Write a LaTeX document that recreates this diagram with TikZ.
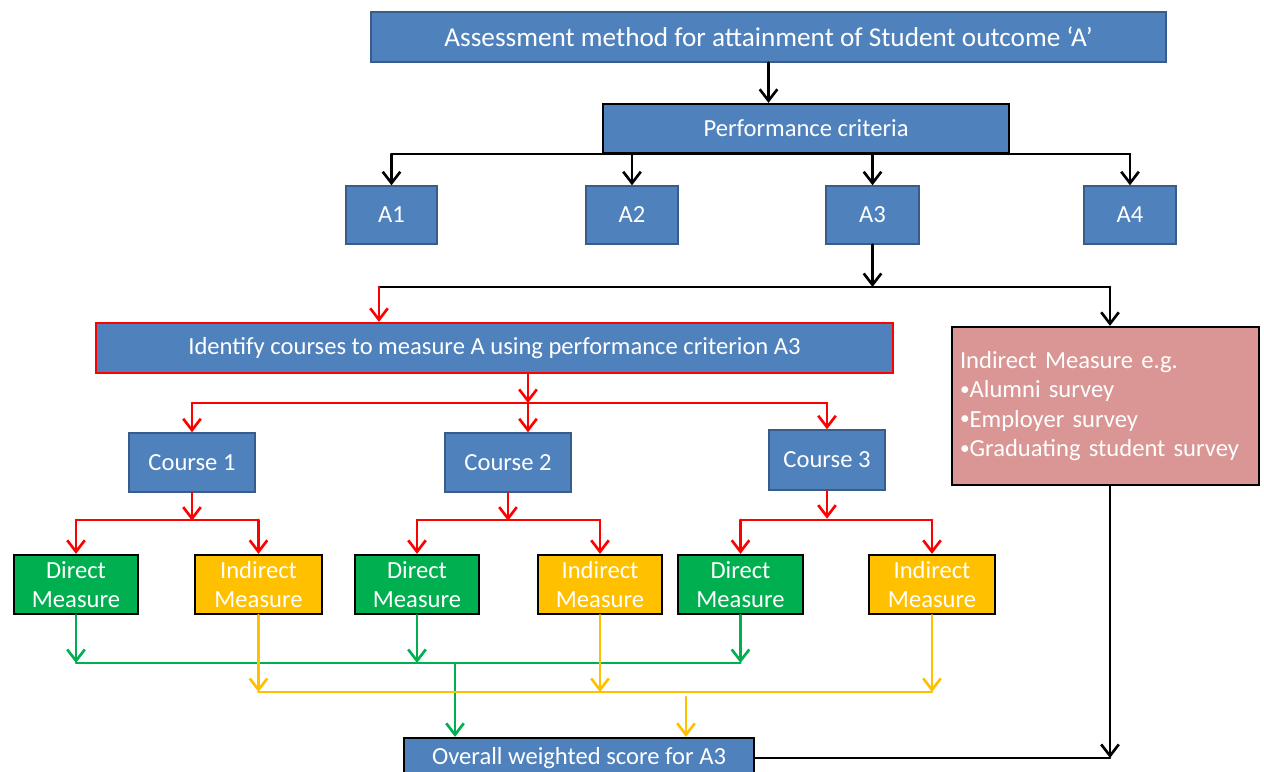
\documentclass[tikz,border=0pt]{standalone}
\usepackage{fontspec}
\setmainfont{Carlito}
\usepackage{tikz}
\usetikzlibrary{arrows.meta}
\usepackage{xcolor}
\definecolor{boxblue}{HTML}{4F81BD}
\definecolor{edgeblue}{HTML}{385D8A}
\definecolor{dmgreen}{HTML}{00B050}
\definecolor{imyellow}{HTML}{FFC000}
\definecolor{surveypink}{HTML}{D99694}
\newcommand{\smallbul}{\raisebox{0.2ex}{\fontsize{11}{11}\selectfont•}}
\tikzset{
  bluebox/.style={draw=edgeblue,fill=boxblue,text=white,inner sep=0pt,line width=0.8pt},
  blackedge/.style={bluebox,draw=black,line width=1.3pt},
  directbox/.style={draw=black,line width=1.3pt,fill=dmgreen,text=white,align=center,inner sep=0pt,
    minimum height=1.18cm,font=\fontsize{14}{16.8}\selectfont},
  indirectbox/.style={directbox,fill=imyellow},
  blk/.style={black,line width=1.5pt},
  redl/.style={red,line width=1.5pt},
  grnl/.style={dmgreen,line width=1.5pt},
  yell/.style={imyellow,line width=1.5pt}
}
\begin{document}
\begin{tikzpicture}[x=0.02cm,y=-0.02cm,>={Straight Barb[length=6.5pt,width=10pt]},
  font=\fontsize{14}{16.8}\selectfont,line cap=round]
\useasboundingbox (0,0) rectangle (1264,771);
\fill[white] (0,0) rectangle (1264,771);
% boxes
\node[bluebox,minimum width=15.9cm,minimum height=1cm,font=\fontsize{15.5}{18}\selectfont] (top) at (768.5,37) {Assessment method for attainment of Student outcome ‘A’};
\node[blackedge,minimum width=8.12cm,minimum height=0.98cm] (perf) at (806,128.5) {Performance criteria};
\node[bluebox,minimum width=1.82cm,minimum height=1.16cm] (A1) at (391.5,215) {A1};
\node[bluebox,minimum width=1.84cm,minimum height=1.16cm] (A2) at (632,215) {A2};
\node[bluebox,minimum width=1.86cm,minimum height=1.16cm] (A3) at (872.5,215) {A3};
\node[bluebox,minimum width=1.84cm,minimum height=1.16cm] (A4) at (1130,215) {A4};
\node[bluebox,draw=red,line width=1.3pt,minimum width=15.94cm,minimum height=1cm] (ident) at (494.5,348) {Identify courses to measure A using performance criterion A3};
\node[draw=black,line width=1.3pt,fill=surveypink,text=white,minimum width=6.14cm,minimum height=3.16cm,
  text width=5.82cm,align=left,inner sep=0pt,font=\fontsize{14}{16.7}\selectfont] (ind) at (1105.5,406)
  {Indirect Measure e.g.\\\smallbul Alumni survey\\\smallbul Employer survey\\\smallbul Graduating student survey};
\node[bluebox,minimum width=2.52cm,minimum height=1.18cm] (C1) at (192,462.5) {Course 1};
\node[bluebox,minimum width=2.52cm,minimum height=1.18cm] (C2) at (508,462.5) {Course 2};
\node[bluebox,minimum width=2.32cm,minimum height=1.2cm] (C3) at (827,460) {Course 3};
\node[directbox,minimum width=2.48cm] (D1) at (76,584.5) {Direct\\Measure};
\node[indirectbox,minimum width=2.54cm] (I1) at (258.5,584.5) {Indirect\\Measure};
\node[directbox,minimum width=2.48cm] (D2) at (417,584.5) {Direct\\Measure};
\node[indirectbox,minimum width=2.48cm] (I2) at (600,584.5) {Indirect\\Measure};
\node[directbox,minimum width=2.5cm] (D3) at (740.5,584.5) {Direct\\Measure};
\node[indirectbox,minimum width=2.52cm] (I3) at (932,584.5) {Indirect\\Measure};
\node[blackedge,minimum width=7cm,minimum height=0.8cm] (out) at (579,758) {Overall weighted score for A3};
% black connectors
\draw[blk,->] (top.south) -- (top.south |- perf.north);
\draw[blk] (perf.south -| A1) -- (perf.south -| A4);
\foreach \a in {A1,A2,A3,A4}
  \draw[blk,->] (perf.south -| \a) -- (\a.north);
\coordinate (s1) at (379,287);
\coordinate (s2) at (1110,287);
\draw[blk,->] (A3.south) -- (A3.south |- s1);
\draw[blk] (s1) -- (s2);
\draw[blk,->] (s2) -- (s2 |- ind.north);
\draw[redl,->] (s1) -- (s1 |- ident.north);
% courses
\coordinate (s3) at (528,403);
\draw[redl,->] (s3 |- ident.south) -- (s3);
\draw[redl] (C1.north |- s3) -- (C3.north |- s3);
\draw[redl,->] (C1.north |- s3) -- (C1.north);
\draw[redl,->] (s3) -- (s3 |- C2.north);
\draw[redl,->] (C3.north |- s3) -- (C3.north);
\foreach \c/\d/\i in {C1/D1/I1,C2/D2/I2,C3/D3/I3}{
  \draw[redl,->] (\c.south) -- ++(0,28);
  \draw[redl] (\d.north |- 0,520) -- (\i.north |- 0,520);
  \draw[redl,->] (\d.north |- 0,520) -- (\d.north);
  \draw[redl,->] (\i.north |- 0,520) -- (\i.north);
}
% combining scores
\coordinate (g) at (455,663);
\coordinate (y) at (686,692);
\foreach \d in {D1,D2,D3}
  \draw[grnl,->] (\d.south) -- (\d.south |- g);
\draw[grnl] (D1.south |- g) -- (D3.south |- g);
\draw[grnl,->] (g) -- (g |- out.north);
\foreach \i in {I1,I2,I3}
  \draw[yell,->] (\i.south) -- (\i.south |- y);
\draw[yell] (I1.south |- y) -- (I3.south |- y);
\draw[yell,->] ([yshift=-0.1cm]y) -- (y |- out.north);
\draw[blk] (out.east) -- (s2 |- out.east);
\draw[blk,->] (s2 |- ind.south) -- (s2 |- out.east);
\end{tikzpicture}
\end{document}
